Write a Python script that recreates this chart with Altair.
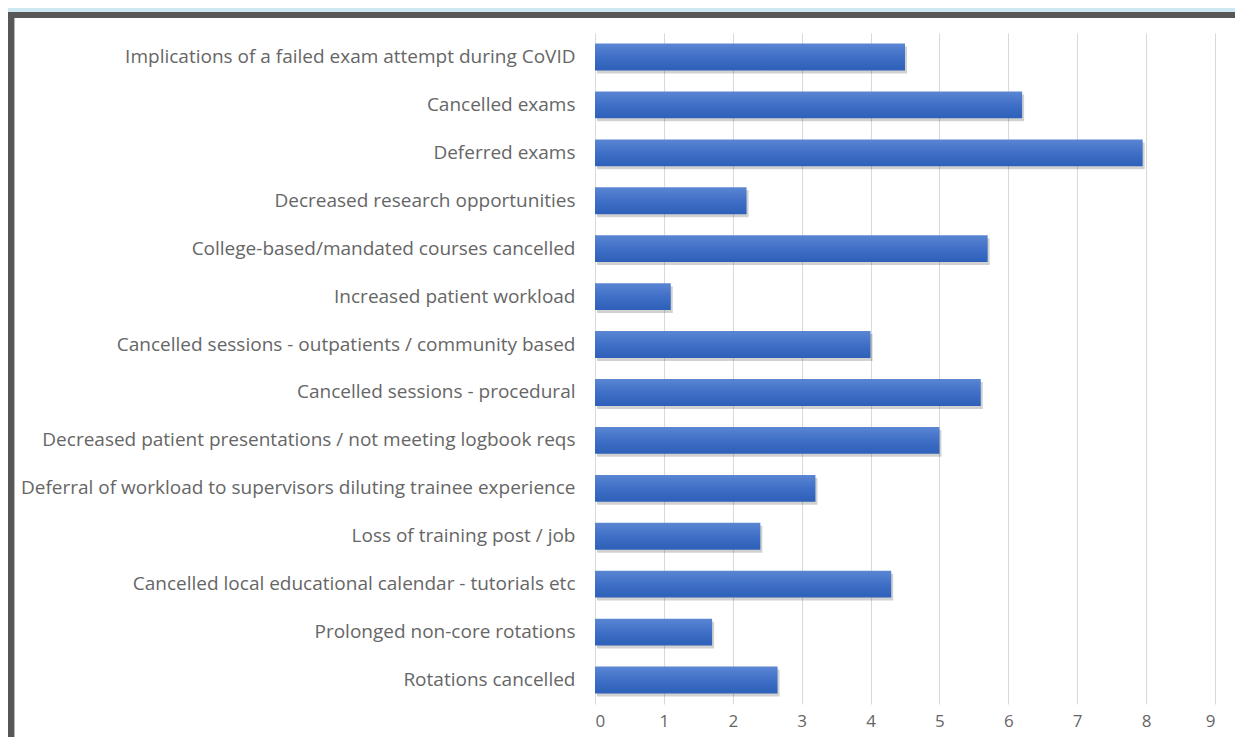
import altair as alt
import pandas as pd

categories = [
    "Implications of a failed exam attempt during CoVID",
    "Cancelled exams",
    "Deferred exams",
    "Decreased research opportunities",
    "College-based/mandated courses cancelled",
    "Increased patient workload",
    "Cancelled sessions - outpatients / community based",
    "Cancelled sessions - procedural",
    "Decreased patient presentations / not meeting logbook reqs",
    "Deferral of workload to supervisors diluting trainee experience",
    "Loss of training post / job",
    "Cancelled local educational calendar - tutorials etc",
    "Prolonged non-core rotations",
    "Rotations cancelled",
]
values = [4.5, 6.2, 7.95, 2.2, 5.7, 1.1, 4.0, 5.6, 5.0, 3.2, 2.4, 4.3, 1.7, 2.65]
x_ticks = [0, 1, 2, 3, 4, 5, 6, 7, 8, 9]

df = pd.DataFrame({"category": categories, "value": values})

W, H = 620, 671
FONT = "Open Sans"
LABEL = "#666666"

y_enc = alt.Y(
    "category:N",
    sort=categories,
    scale=alt.Scale(paddingInner=0.44, paddingOuter=0.22),
    axis=alt.Axis(
        title=None, ticks=False, domain=False, labelPadding=20,
        labelFont=FONT, labelFontSize=19, labelColor=LABEL, labelLimit=700,
    ),
)
x_enc = alt.X(
    "value:Q",
    scale=alt.Scale(domain=[0, 9], nice=False),
    axis=alt.Axis(
        title=None, values=x_ticks, ticks=False, domain=False, grid=True,
        gridColor="#d9d9d9", gridWidth=1, labelPadding=9, labelFont=FONT,
        labelFontSize=17, labelColor=LABEL,
    ),
)

base = alt.Chart(df)

shadow = base.mark_bar(color="#000000", opacity=0.18, xOffset=2, yOffset=3).encode(
    x=x_enc, y=y_enc
)

grad = alt.Gradient(
    gradient="linear",
    stops=[
        alt.GradientStop(color="#5b86d4", offset=0),
        alt.GradientStop(color="#3f6fc6", offset=0.5),
        alt.GradientStop(color="#2e60b9", offset=1),
    ],
    x1=0, x2=0, y1=0, y2=1,
)
bars = base.mark_bar(color=grad).encode(x=x_enc, y=y_enc)

deco = alt.Chart(pd.DataFrame({"d": [0]}))
top_blue = deco.mark_rect(color="#cde8f3").encode(
    x=alt.value(-587), x2=alt.value(W + 20), y=alt.value(-25), y2=alt.value(-21)
)
top_dark = deco.mark_rect(color="#575757").encode(
    x=alt.value(-587), x2=alt.value(W + 20), y=alt.value(-21), y2=alt.value(-15)
)
left_dark = deco.mark_rect(color="#575757").encode(
    x=alt.value(-587), x2=alt.value(-581), y=alt.value(-21), y2=alt.value(H + 40)
)
left_light = deco.mark_rect(color="#b8b8b8").encode(
    x=alt.value(-581), x2=alt.value(-580), y=alt.value(-15), y2=alt.value(H + 40)
)

chart = (
    alt.layer(top_blue, top_dark, left_dark, left_light, shadow, bars)
    .properties(
        width=W,
        height=H,
        padding={"left": 587, "top": 25, "right": 20, "bottom": 33},
        autosize=alt.AutoSizeParams(type="none"),
        background="white",
    )
    .configure_view(stroke=None)
)

chart.save("out.html", embed_options={"renderer": "svg", "actions": False})
